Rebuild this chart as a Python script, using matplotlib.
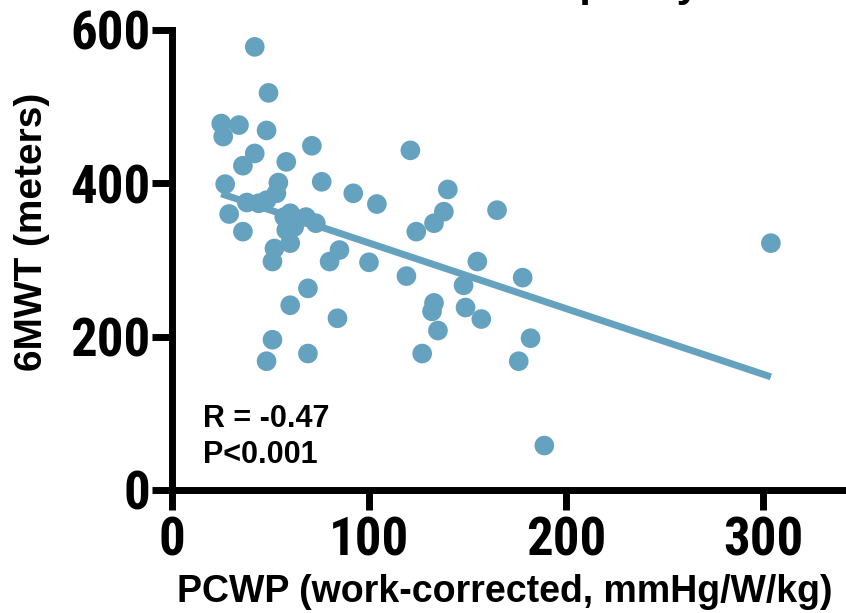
import matplotlib
matplotlib.use('Agg')
import matplotlib.pyplot as plt
from matplotlib import font_manager

# PCWP (work-corrected) vs 6MWT
pcwp = [42, 49, 25, 34, 26, 48, 71, 42, 36, 58, 121,
        76, 27, 54, 92, 140, 104, 165, 138, 133, 124,
        29, 36, 44, 53, 57, 58, 68, 73, 38, 48, 62, 60, 85, 52,
        51, 80, 60, 100, 119, 155, 148, 178, 69, 60, 84, 133, 132,
        149, 157, 135, 182, 127, 176, 51, 48, 69, 189, 304]
smwt = [578, 518, 478, 476, 461, 469, 449, 439, 423, 428, 443,
        402, 399, 401, 387, 392, 373, 365, 363, 348, 337,
        360, 337, 374, 387, 356, 339, 356, 348, 375, 378, 343, 361, 313, 315,
        298, 298, 322, 297, 279, 298, 267, 277, 263, 241, 224, 244, 233,
        238, 223, 208, 198, 178, 168, 196, 168, 178, 58, 322]

fit_slope = -0.856
fit_intercept = 407.8
r_text = 'R = -0.47'
p_text = 'P<0.001'

xticks = [0, 100, 200, 300]
yticks = [0, 200, 400, 600]

blue = '#65a2c0'
text_font = 'Liberation Sans'


def narrow_bold():
    """Pick a bold condensed face for the tick numbers, if one is installed."""
    def wt(w):
        return w if isinstance(w, int) else font_manager.weight_dict.get(w, 400)

    def st(s):
        return s if isinstance(s, int) else font_manager.stretch_dict.get(s, 500)

    prefs = ['Liberation Sans Narrow', 'Arial Narrow', 'Roboto Condensed',
             'Open Sans Condensed', 'Noto Sans', 'Open Sans', 'Roboto',
             'DejaVu Sans', 'Liberation Sans']
    best = None
    for f in font_manager.fontManager.ttflist:
        if f.style != 'normal' or wt(f.weight) < 600:
            continue
        narrow = 'narrow' in f.name.lower() or 'condensed' in f.name.lower() \
            or st(f.stretch) < 500 or 'condensed' in f.fname.lower() \
            or 'narrow' in f.fname.lower()
        if not narrow or 'extra' in f.fname.lower() or 'semi' in f.fname.lower():
            continue
        rank = prefs.index(f.name) if f.name in prefs else len(prefs)
        if best is None or rank < best[0]:
            best = (rank, f.fname)
    if best is None:
        return font_manager.FontProperties(family=text_font, weight='bold')
    return font_manager.FontProperties(fname=best[1])


tick_fp = narrow_bold()
tick_fp.set_size(38)

fig = plt.figure(figsize=(8.46, 6.13), dpi=100)
ax = fig.add_axes([172 / 846, 123 / 613, 689.5 / 846, 460 / 613])

x0, x1 = min(pcwp), max(pcwp)
ax.plot([x0, x1], [fit_intercept + fit_slope * x0, fit_intercept + fit_slope * x1],
        color=blue, lw=5, solid_capstyle='butt', zorder=2)
ax.scatter(pcwp, smwt, s=200, color=blue, edgecolors='none', zorder=3)

ax.set_xlim(0, 350)
ax.set_ylim(0, 600)
ax.set_xticks(xticks)
ax.set_yticks(yticks)
for s in ['top', 'right']:
    ax.spines[s].set_visible(False)
for s in ['left', 'bottom']:
    ax.spines[s].set_linewidth(5)
ax.tick_params(axis='both', length=14.5, width=5, direction='out')
ax.tick_params(axis='x', pad=4)
ax.tick_params(axis='y', pad=1)
for lab in ax.get_xticklabels() + ax.get_yticklabels():
    lab.set_fontproperties(tick_fp)

ax.text(203 / 846, 1 - 427 / 613, r_text, transform=fig.transFigure,
        fontsize=22, fontweight='bold', family=text_font, va='baseline')
ax.text(203 / 846, 1 - 463 / 613, p_text, transform=fig.transFigure,
        fontsize=22, fontweight='bold', family=text_font, va='baseline')

fig.text(505 / 846, 11 / 613, 'PCWP (work-corrected, mmHg/W/kg)',
         ha='center', va='baseline', fontsize=27, fontweight='bold',
         family=text_font)
fig.text(32 / 846, 1 - 232 / 613, '6MWT (meters)', rotation=90,
         ha='center', va='center', fontsize=28, fontweight='bold',
         family=text_font)
# title of the panel, cropped off at the top of the image
fig.text(700 / 846, 1 + 4 / 613, 'Exercise capacity', ha='right',
         va='baseline', fontsize=30, fontweight='bold', family=text_font)

fig.savefig('out.png', dpi=100)
